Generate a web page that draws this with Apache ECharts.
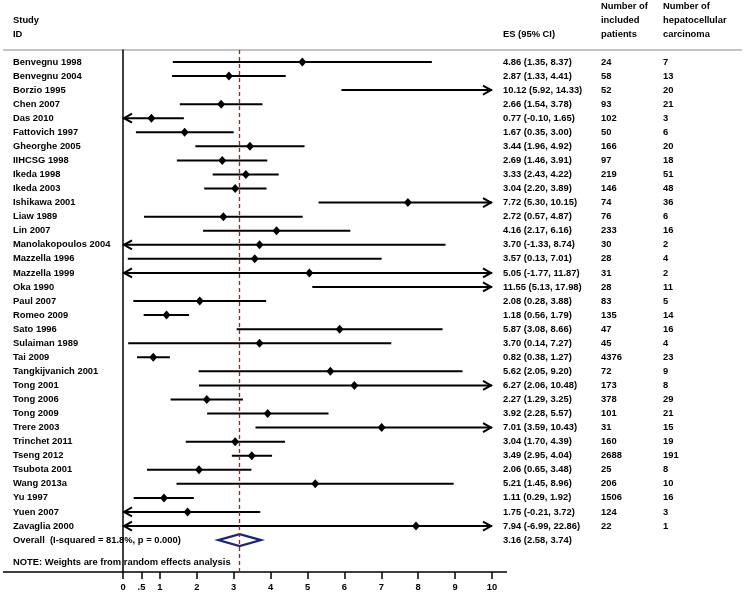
<!DOCTYPE html>
<html>
<head>
<meta charset="utf-8">
<script src="https://cdn.jsdelivr.net/npm/echarts@6/dist/echarts.min.js"></script>
<style>html,body{margin:0;padding:0;background:#fff}#c{width:745px;height:594px}</style>
</head>
<body>
<div id="c"></div>
<script>
var studies = ["Benvegnu 1998","Benvegnu 2004","Borzio 1995","Chen 2007","Das 2010","Fattovich 1997","Gheorghe 2005","IIHCSG 1998","Ikeda 1998","Ikeda 2003","Ishikawa 2001","Liaw 1989","Lin 2007","Manolakopoulos 2004","Mazzella 1996","Mazzella 1999","Oka 1990","Paul 2007","Romeo 2009","Sato 1996","Sulaiman 1989","Tai 2009","Tangkijvanich 2001","Tong 2001","Tong 2006","Tong 2009","Trere 2003","Trinchet 2011","Tseng 2012","Tsubota 2001","Wang 2013a","Yu 1997","Yuen 2007","Zavaglia 2000"];
var es = [4.86,2.87,10.12,2.66,0.77,1.67,3.44,2.69,3.33,3.04,7.72,2.72,4.16,3.70,3.57,5.05,11.55,2.08,1.18,5.87,3.70,0.82,5.62,6.27,2.27,3.92,7.01,3.04,3.49,2.06,5.21,1.11,1.75,7.94];
var lo = [1.35,1.33,5.92,1.54,-0.10,0.35,1.96,1.46,2.43,2.20,5.30,0.57,2.17,-1.33,0.13,-1.77,5.13,0.28,0.56,3.08,0.14,0.38,2.05,2.06,1.29,2.28,3.59,1.70,2.95,0.65,1.45,0.29,-0.21,-6.99];
var hi = [8.37,4.41,14.33,3.78,1.65,3.00,4.92,3.91,4.22,3.89,10.15,4.87,6.16,8.74,7.01,11.87,17.98,3.88,1.79,8.66,7.27,1.27,9.20,10.48,3.25,5.57,10.43,4.39,4.04,3.48,8.96,1.92,3.72,22.86];
var patients = [24,58,52,93,102,50,166,97,219,146,74,76,233,30,28,31,28,83,135,47,45,4376,72,173,378,101,31,160,2688,25,206,1506,124,22];
var hcc = [7,13,20,21,3,6,20,18,51,48,36,6,16,2,4,2,11,5,14,16,4,23,9,8,29,21,15,19,191,8,10,16,3,1];
var overall = {label: "Overall  (I-squared = 81.8%, p = 0.000)", es: 3.16, lo: 2.58, hi: 3.74};
var noteText = "NOTE: Weights are from random effects analysis";
var xTicks = [0,0.5,1,2,3,4,5,6,7,8,9,10];
var xMin = 0, xMax = 10;

var FONT = 'bold 9.4px "Liberation Sans", Arial, sans-serif';
var COLX = {study: 13, es: 503, n: 601, hcc: 663};

var ciData = studies.map(function(s, i){ return [i, es[i], lo[i], hi[i]]; });
var textData = studies.map(function(s, i){ return [i]; });
textData.push([studies.length]);
textData.push([studies.length + 1.6]);

function fmt(v){ return v.toFixed(2); }

function renderCI(params, api) {
  var row = api.value(0), e = api.value(1), l = api.value(2), h = api.value(3);
  var y = api.coord([0, row])[1];
  var x0 = api.coord([xMin, row])[0], x1 = api.coord([xMax, row])[0];
  var lc = Math.max(l, xMin), hc = Math.min(h, xMax);
  var xl = api.coord([lc, row])[0], xh = api.coord([hc, row])[0];
  var st = {stroke: '#000', lineWidth: 2, fill: null};
  var ch = [{type: 'line', shape: {x1: xl, y1: y, x2: xh, y2: y}, style: st}];
  if (l < xMin) {
    ch.push({type: 'polyline', shape: {points: [[x0 + 9, y - 4.5], [x0 + 1, y], [x0 + 9, y + 4.5]]}, style: st});
  }
  if (h > xMax) {
    ch.push({type: 'polyline', shape: {points: [[x1 - 9, y - 4.5], [x1 - 1, y], [x1 - 9, y + 4.5]]}, style: st});
  }
  if (e >= xMin && e <= xMax) {
    var xe = api.coord([e, row])[0];
    ch.push({type: 'polygon', shape: {points: [[xe - 4, y], [xe, y - 4.5], [xe + 4, y], [xe, y + 4.5]]}, style: {fill: '#000', stroke: null}});
  }
  return {type: 'group', children: ch};
}

function renderText(params, api) {
  var row = api.value(0);
  var y = api.coord([0, row])[1];
  var i = params.dataIndex;
  var items = [];
  function t(x, s){ items.push({type: 'text', style: {text: s, x: x, y: y, font: FONT, fill: '#000', align: 'left', verticalAlign: 'middle'}}); }
  if (i < studies.length) {
    t(COLX.study, studies[i]);
    t(COLX.es, fmt(es[i]) + ' (' + fmt(lo[i]) + ', ' + fmt(hi[i]) + ')');
    t(COLX.n, String(patients[i]));
    t(COLX.hcc, String(hcc[i]));
  } else if (i === studies.length) {
    t(COLX.study, overall.label);
    t(COLX.es, fmt(overall.es) + ' (' + fmt(overall.lo) + ', ' + fmt(overall.hi) + ')');
    var xl = api.coord([overall.lo, row])[0], xh = api.coord([overall.hi, row])[0], xe = api.coord([overall.es, row])[0];
    items.push({type: 'polygon', shape: {points: [[xl, y], [xe, y - 6], [xh, y], [xe, y + 6]]}, style: {fill: null, stroke: '#1c237e', lineWidth: 2.2}});
  } else {
    t(COLX.study, noteText);
  }
  return {type: 'group', children: items};
}

function hdr(x, y, s){ return {type: 'text', x: x, y: y, style: {text: s, font: FONT, fill: '#000', align: 'left', verticalAlign: 'middle'}}; }

var chart = echarts.init(document.getElementById('c'), null, {renderer: 'canvas'});
chart.setOption({
  animation: false,
  backgroundColor: '#fff',
  grid: {left: 123, right: 253, top: 50, bottom: 22, containLabel: false},
  xAxis: {
    type: 'value', min: xMin, max: xMax, position: 'bottom',
    axisLine: {show: false, onZero: false},
    splitLine: {show: false},
    axisTick: {show: true, customValues: xTicks, length: 7, lineStyle: {color: '#000', width: 1.5}},
    axisLabel: {show: true, customValues: xTicks, margin: 11, fontWeight: 'bold', fontSize: 9.4, fontFamily: 'Liberation Sans', color: '#000',
      formatter: function(v){ return v === 0.5 ? '.5' : String(v); }}
  },
  yAxis: {
    type: 'value', inverse: true, min: -0.853, max: 36.27,
    axisLine: {show: true, onZero: false, lineStyle: {color: '#000', width: 1.5}},
    axisTick: {show: false}, axisLabel: {show: false}, splitLine: {show: false}
  },
  graphic: [
    hdr(COLX.study, 20, 'Study'),
    hdr(COLX.study, 34, 'ID'),
    hdr(COLX.es, 34, 'ES (95% CI)'),
    hdr(COLX.n, 6, 'Number of'),
    hdr(COLX.n, 20, 'included'),
    hdr(COLX.n, 34, 'patients'),
    hdr(COLX.hcc, 6, 'Number of'),
    hdr(COLX.hcc, 20, 'hepatocellular'),
    hdr(COLX.hcc, 34, 'carcinoma'),
    {type: 'line', shape: {x1: 3, y1: 50, x2: 742, y2: 50}, style: {stroke: '#c4c4c4', lineWidth: 2}},
    {type: 'line', shape: {x1: 3, y1: 572, x2: 507, y2: 572}, style: {stroke: '#000', lineWidth: 1.5}}
  ],
  series: [
    {
      type: 'custom', clip: false, data: ciData, renderItem: renderCI, z: 3,
      markLine: {
        silent: true, symbol: 'none', label: {show: false},
        lineStyle: {color: '#8b2b2b', type: [4, 3], width: 1.3},
        data: [{xAxis: overall.es}]
      }
    },
    {type: 'custom', clip: false, data: textData, renderItem: renderText, z: 4}
  ]
});
</script>
</body>
</html>
